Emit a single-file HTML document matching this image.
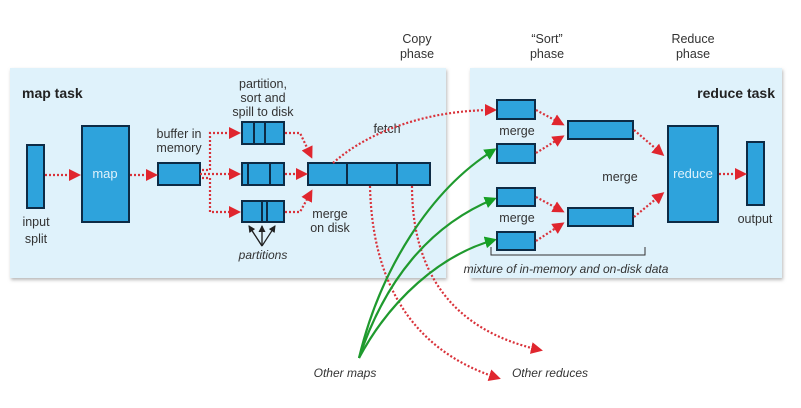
<!DOCTYPE html>
<html><head><meta charset="utf-8"><style>
html,body{margin:0;padding:0;background:#fff;}
svg{display:block;font-family:"Liberation Sans",sans-serif;}
.b{fill:#2ea3dc;stroke:#0d2b45;stroke-width:2;}
.r{fill:none;stroke:#d9323a;stroke-width:2.2;stroke-dasharray:2 2;}
.g{fill:none;stroke:#1f9a2e;stroke-width:2.2;}
.t{font-size:12.5px;fill:#333;text-anchor:middle;}
.i{font-size:12px;fill:#333;font-style:italic;text-anchor:middle;}
</style></head><body>
<svg width="801" height="408" viewBox="0 0 801 408">
<defs>
<marker id="ra" markerWidth="12" markerHeight="12" refX="9" refY="6" orient="auto" markerUnits="userSpaceOnUse"><path d="M0,0 L12,6 L0,12 z" fill="#e0262e"/></marker>
<marker id="ga" markerWidth="12" markerHeight="12" refX="9" refY="6" orient="auto" markerUnits="userSpaceOnUse"><path d="M0,0 L12,6 L0,12 z" fill="#16a024"/></marker>
<marker id="ka" markerWidth="7" markerHeight="7" refX="6" refY="3.5" orient="auto" markerUnits="userSpaceOnUse"><path d="M0,0 L7,3.5 L0,7 z" fill="#222"/></marker>
<filter id="sh"><feDropShadow dx="1" dy="2" stdDeviation="1.5" flood-color="#888" flood-opacity="0.6"/></filter>
</defs>
<rect x="10" y="68" width="436" height="210" fill="#dff2fb" filter="url(#sh)"/>
<rect x="470" y="68" width="312" height="210" fill="#dff2fb" filter="url(#sh)"/>
<text x="417" y="43" class="t">Copy</text><text x="417" y="58" class="t">phase</text>
<text x="547" y="43" class="t">“Sort”</text><text x="547" y="58" class="t">phase</text>
<text x="693" y="43" class="t">Reduce</text><text x="693" y="58" class="t">phase</text>
<text x="22" y="98" font-size="14" font-weight="bold" fill="#222">map task</text>
<text x="775" y="98" font-size="14" font-weight="bold" fill="#222" text-anchor="end">reduce task</text>
<rect class="b" x="27" y="145" width="17" height="63"/>
<rect class="b" x="82" y="126" width="47" height="96"/>
<text x="105" y="178" font-size="13" fill="#dff2fb" text-anchor="middle">map</text>
<rect class="b" x="158" y="163" width="42" height="22"/>
<rect class="b" x="242" y="122" width="42" height="22"/><path d="M254,122v22M265,122v22" stroke="#0d2b45" stroke-width="2"/>
<rect class="b" x="242" y="163" width="42" height="22"/><path d="M248,163v22M270,163v22" stroke="#0d2b45" stroke-width="2"/>
<rect class="b" x="242" y="201" width="42" height="21"/><path d="M262,201v21M267,201v21" stroke="#0d2b45" stroke-width="2"/>
<rect class="b" x="308" y="163" width="122" height="22"/><path d="M347,163v22M397,163v22" stroke="#0d2b45" stroke-width="2"/>
<text x="36" y="226" class="t" font-size="14">input</text><text x="36" y="243" class="t" font-size="14">split</text>
<text x="179" y="138" class="t">buffer in</text><text x="179" y="152" class="t">memory</text>
<text x="263" y="88" class="t">partition,</text><text x="263" y="102" class="t">sort and</text><text x="263" y="116" class="t">spill to disk</text>
<text x="330" y="218" class="t">merge</text><text x="330" y="232" class="t">on disk</text>
<text x="263" y="259" class="i">partitions</text>
<path d="M262,246 L249,226 M262,246 L262,226 M262,246 L275,226" stroke="#222" stroke-width="1.2" marker-end="url(#ka)"/>
<path d="M262,246 L249,226" stroke="#222" stroke-width="1.2" marker-end="url(#ka)"/>
<path d="M262,246 L262,226" stroke="#222" stroke-width="1.2" marker-end="url(#ka)"/>
<text x="387" y="133" class="t">fetch</text>
<path class="r" d="M45,175 H78" marker-end="url(#ra)"/>
<path class="r" d="M130,175 H155" marker-end="url(#ra)"/>
<path class="r" d="M200,174 H238" marker-end="url(#ra)"/>
<path class="r" d="M202,170 H210 V133 H238" marker-end="url(#ra)"/>
<path class="r" d="M202,178 H210 V212 H238" marker-end="url(#ra)"/>
<path class="r" d="M285,133 H300 L311,156" marker-end="url(#ra)"/>
<path class="r" d="M285,174 H305" marker-end="url(#ra)"/>
<path class="r" d="M285,212 H300 L311,192" marker-end="url(#ra)"/>
<path class="r" d="M333,163 C370,130 430,110 494,110" marker-end="url(#ra)"/>
<path class="r" d="M370,186 C372,280 410,350 498,378" marker-end="url(#ra)"/>
<path class="r" d="M412,186 C412,270 450,330 540,350" marker-end="url(#ra)"/>
<path class="g" d="M359,358 C380,270 430,190 494,150" marker-end="url(#ga)"/>
<path class="g" d="M359,358 C385,280 430,225 494,199" marker-end="url(#ga)"/>
<path class="g" d="M359,358 C390,300 440,255 494,240" marker-end="url(#ga)"/>
<text x="345" y="377" class="i">Other maps</text>
<text x="550" y="377" class="i">Other reduces</text>
<rect class="b" x="497" y="100" width="38" height="19"/>
<rect class="b" x="497" y="144" width="38" height="19"/>
<rect class="b" x="497" y="188" width="38" height="18"/>
<rect class="b" x="497" y="232" width="38" height="18"/>
<rect class="b" x="568" y="121" width="65" height="18"/>
<rect class="b" x="568" y="208" width="65" height="18"/>
<rect class="b" x="668" y="126" width="50" height="96"/>
<text x="693" y="178" font-size="13" fill="#dff2fb" text-anchor="middle">reduce</text>
<rect class="b" x="747" y="142" width="17" height="63"/>
<text x="517" y="135" class="t">merge</text>
<text x="517" y="222" class="t">merge</text>
<text x="620" y="181" class="t">merge</text>
<text x="755" y="223" class="t" font-size="14">output</text>
<path class="r" d="M536,110 L562,124" marker-end="url(#ra)"/>
<path class="r" d="M536,153 L562,137" marker-end="url(#ra)"/>
<path class="r" d="M536,197 L562,211" marker-end="url(#ra)"/>
<path class="r" d="M536,241 L562,224" marker-end="url(#ra)"/>
<path class="r" d="M634,130 L662,154" marker-end="url(#ra)"/>
<path class="r" d="M634,217 L662,194" marker-end="url(#ra)"/>
<path class="r" d="M719,174 H744" marker-end="url(#ra)"/>
<path d="M491,247 V255 H645 V247" fill="none" stroke="#333" stroke-width="1"/>
<text x="566" y="273" class="i">mixture of in-memory and on-disk data</text>
</svg>
</body></html>
